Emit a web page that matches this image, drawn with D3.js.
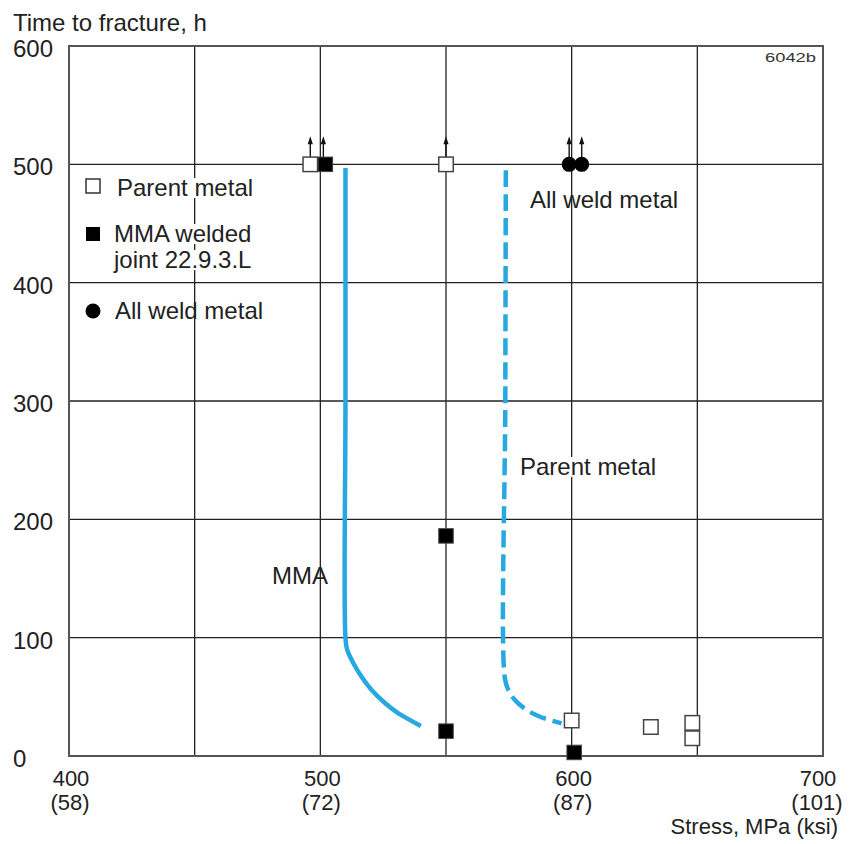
<!DOCTYPE html>
<html>
<head>
<meta charset="utf-8">
<script src="https://cdn.jsdelivr.net/npm/d3@7"></script>
<style>
  html, body { margin: 0; padding: 0; background: #fff; }
  svg { display: block; font-family: "Liberation Sans", Arial, Helvetica, sans-serif; }
</style>
</head>
<body>
<svg id="chart" width="850" height="844"></svg>
<script>
// ---------- data ----------
const xTicksMPa = [400, 500, 600, 700];
const xTicksKsi = ["(58)", "(72)", "(87)", "(101)"];
const xGrid = [450, 500, 550, 600, 650];
const yTicks = [0, 100, 200, 300, 400, 500, 600];

// Parent metal (open squares)
const parentStress = [496, 550, 600, 631.5, 648, 648];
const parentTime   = [500, 500, 30, 24.5, 28, 15];
const parentRunout = [true, true, false, false, false, false];

// MMA welded joint 22.9.3.L (filled squares)
const mmaStress = [502, 550, 550, 601];
const mmaTime   = [500, 186, 21, 3];
const mmaRunout = [true, false, false, false];

// All weld metal (filled circles)
const weldStress = [599, 604];
const weldTime   = [500, 500];
const weldRunout = [true, true];

// MMA curve (solid)
const mmaCurveStress = [510, 510, 510, 510.7, 513.1, 516.4, 520.4, 525.7, 530.9, 540];
const mmaCurveTime   = [497, 300, 100, 89.6, 78.6, 67, 55.8, 44.8, 36.3, 25.4];

// Parent metal curve (dashed)
const parentCurveStress = [573.8, 573.6, 573.4, 574.8, 577.4, 582.1, 587.4, 596];
const parentCurveTime   = [495, 300, 66, 55.8, 47.3, 38.9, 33.2, 27.6];

// ---------- layout ----------
const svg = d3.select("#chart");
const x = d3.scaleLinear().domain([400, 700]).range([69, 823]);
const y = d3.scaleLinear().domain([0, 600]).range([756, 46]);
const blue = "#27a8e0";
const FS = 24;
const FSX = 22;

// gridlines
svg.append("g").selectAll("line.v").data(xGrid).join("line")
  .attr("x1", d => x(d)).attr("x2", d => x(d))
  .attr("y1", y(0)).attr("y2", y(600))
  .attr("stroke", "#222").attr("stroke-width", 1.3);
svg.append("g").selectAll("line.h").data(yTicks.filter(d => d > 0 && d < 600)).join("line")
  .attr("x1", x(400)).attr("x2", x(700))
  .attr("y1", d => y(d)).attr("y2", d => y(d))
  .attr("stroke", "#222").attr("stroke-width", 1.3);

// frame
svg.append("rect")
  .attr("x", x(400)).attr("y", y(600))
  .attr("width", x(700) - x(400)).attr("height", y(0) - y(600))
  .attr("fill", "none").attr("stroke", "#555").attr("stroke-width", 2);

// y tick labels
svg.append("g").selectAll("text").data(yTicks).join("text")
  .attr("x", 13).attr("y", d => y(d) + 11)
  .attr("font-size", FS).attr("fill", "#222")
  .text(d => d);

// x tick labels
const xShift = d => (d === 700 ? -5 : 2);
const xl = svg.append("g");
xl.selectAll("text.mpa").data(xTicksMPa).join("text")
  .attr("class", "mpa")
  .attr("x", d => x(d) + xShift(d)).attr("y", 786)
  .attr("text-anchor", "middle").attr("font-size", FSX).attr("fill", "#222")
  .text(d => d);
xl.selectAll("text.ksi").data(xTicksMPa).join("text")
  .attr("class", "ksi")
  .attr("x", d => x(d) + xShift(d) - 1).attr("y", 810)
  .attr("text-anchor", "middle").attr("font-size", FSX).attr("fill", "#222")
  .text((d, i) => xTicksKsi[i]);

// axis titles
svg.append("text").attr("x", 13).attr("y", 31)
  .attr("font-size", FS).attr("fill", "#222").text("Time to fracture, h");
svg.append("text").attr("x", 838).attr("y", 834).attr("text-anchor", "end")
  .attr("font-size", FSX).attr("fill", "#222").text("Stress, MPa (ksi)");
svg.append("text").attr("x", 765).attr("y", 62)
  .attr("font-size", 13).attr("fill", "#333")
  .attr("textLength", 51).attr("lengthAdjust", "spacingAndGlyphs").text("6042b");

// curves
const line = d3.line().x(d => x(d[0])).y(d => y(d[1])).curve(d3.curveCatmullRom);
svg.append("path")
  .datum(mmaCurveStress.map((s, i) => [s, mmaCurveTime[i]]))
  .attr("d", line).attr("fill", "none").attr("stroke", blue).attr("stroke-width", 4.5);
svg.append("path")
  .datum(parentCurveStress.map((s, i) => [s, parentCurveTime[i]]))
  .attr("d", line).attr("fill", "none").attr("stroke", blue).attr("stroke-width", 4.5)
  .attr("stroke-dasharray", "17,7");

// in-plot labels with white background
function label(tx, ty, str, bg) {
  const t = svg.append("text").attr("x", tx).attr("y", ty)
    .attr("font-size", FS).attr("fill", "#222").text(str);
  if (bg) {
    const b = t.node().getBBox();
    svg.insert("rect", () => t.node())
      .attr("x", b.x).attr("y", ty - 18).attr("width", b.width).attr("height", 20)
      .attr("fill", "#fff");
  }
  return t;
}
label(530, 208, "All weld metal", false);
label(520, 475, "Parent metal", true);
label(272, 584, "MMA", false);

// legend
label(117, 196, "Parent metal", true);
label(114, 242, "MMA welded", true);
label(114, 268, "joint 22.9.3.L", true);
label(115, 319, "All weld metal", false);
svg.append("rect").attr("x", 86).attr("y", 179).attr("width", 14).attr("height", 14)
  .attr("fill", "#fff").attr("stroke", "#333").attr("stroke-width", 1.5);
svg.append("rect").attr("x", 86).attr("y", 227).attr("width", 14).attr("height", 14)
  .attr("fill", "#000");
svg.append("circle").attr("cx", 93).attr("cy", 311).attr("r", 7.5).attr("fill", "#000");

// runout arrows
function arrows(stress, time, runout, off) {
  const g = svg.append("g");
  stress.forEach((s, i) => {
    if (!runout[i]) return;
    const cx = x(s) + off, cy = y(time[i]) - 7;
    g.append("line").attr("x1", cx).attr("x2", cx).attr("y1", cy).attr("y2", cy - 15)
      .attr("stroke", "#111").attr("stroke-width", 1.4);
    g.append("path")
      .attr("d", `M${cx - 2.6},${cy - 13} L${cx},${cy - 21} L${cx + 2.6},${cy - 13} Z`)
      .attr("fill", "#111");
  });
}
arrows(parentStress, parentTime, parentRunout, 0);
arrows(mmaStress, mmaTime, mmaRunout, -2);
arrows(weldStress, weldTime, weldRunout, 0);

// markers
const S = 14.5;
svg.append("g").selectAll("rect").data(parentStress.map((s, i) => [s, parentTime[i]])).join("rect")
  .attr("x", d => x(d[0]) - S / 2).attr("y", d => y(d[1]) - S / 2)
  .attr("width", S).attr("height", S)
  .attr("fill", "#fff").attr("stroke", "#444").attr("stroke-width", 1.5);
svg.append("g").selectAll("rect").data(mmaStress.map((s, i) => [s, mmaTime[i]])).join("rect")
  .attr("x", d => x(d[0]) - S / 2).attr("y", d => y(d[1]) - S / 2)
  .attr("width", S).attr("height", S)
  .attr("fill", "#000").attr("stroke", "#444").attr("stroke-width", 1);
svg.append("g").selectAll("circle").data(weldStress.map((s, i) => [s, weldTime[i]])).join("circle")
  .attr("cx", d => x(d[0])).attr("cy", d => y(d[1])).attr("r", 7.5)
  .attr("fill", "#000");
</script>
</body>
</html>
